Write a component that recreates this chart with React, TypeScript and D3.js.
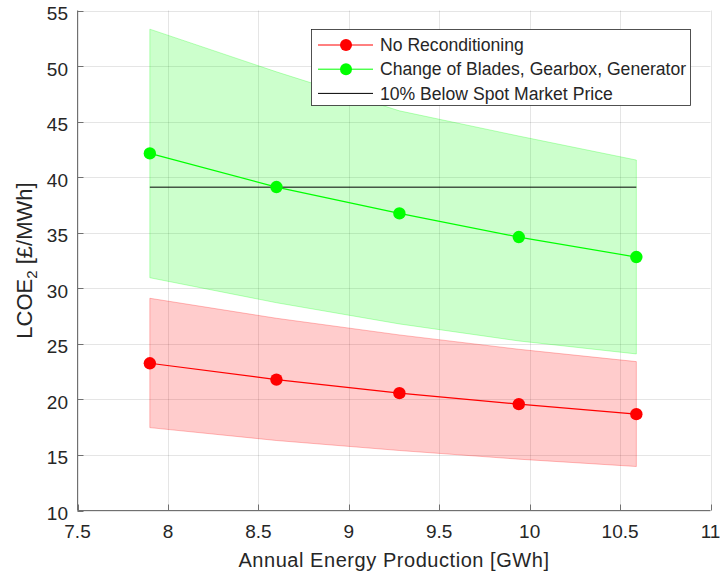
import React from "react";
import * as d3 from "d3";

// annual energy production [GWh]
const aep = [7.9, 8.6, 9.28, 9.94, 10.59];

// LCOE2 [£/MWh]
const noRecon = [23.25, 21.78, 20.56, 19.57, 18.67];
const noReconHigh = [29.1, 27.3, 25.8, 24.51, 23.4];
const noReconLow = [17.46, 16.3, 15.4, 14.62, 13.96];

const changeAll = [42.14, 39.11, 36.74, 34.61, 32.81];
const changeHigh = [53.32, 49.48, 45.97, 43.7, 41.54];
const changeLow = [30.95, 28.7, 26.79, 25.26, 24.09];

const spotPrice = 39.1;

const xTicks = [7.5, 8, 8.5, 9, 9.5, 10, 10.5, 11];
const yTicks = [10, 15, 20, 25, 30, 35, 40, 45, 50, 55];

const legendItems = [
  { label: "No Reconditioning", color: "#ff0000", marker: true },
  { label: "Change of Blades, Gearbox, Generator", color: "#00ff00", marker: true },
  { label: "10% Below Spot Market Price", color: "#000000", marker: false },
];

const W = 720,
  H = 575;
const left = 77.5,
  right = 710.5,
  top = 10.5,
  bottom = 510.5;
const font = "'Liberation Sans', Arial, Helvetica, sans-serif";
const textColor = "#262626";

export default function App() {
  const x = d3.scaleLinear().domain([7.5, 11]).range([left, right]);
  const y = d3.scaleLinear().domain([10, 55]).range([bottom, top]);

  const band = (hi: number[], lo: number[]) =>
    d3
      .area<number>()
      .x((d, i) => x(aep[i]))
      .y0((d, i) => y(lo[i]))
      .y1((d, i) => y(hi[i]))(aep) || "";

  const line = (vals: number[]) =>
    d3
      .line<number>()
      .x((d, i) => x(aep[i]))
      .y((d) => y(d))(vals) || "";

  return (
    <svg
      width={W}
      height={H}
      style={{ position: "absolute", left: 0, top: 0, background: "#fff" }}
      fontFamily={font}
    >
      {/* grid */}
      <g stroke={textColor} strokeOpacity={0.12} strokeWidth={1}>
        {xTicks.map((t) => (
          <line key={"gx" + t} x1={Math.round(x(t)) + 0.5} x2={Math.round(x(t)) + 0.5} y1={top} y2={bottom} />
        ))}
        {yTicks.map((t) => (
          <line key={"gy" + t} x1={left} x2={right} y1={Math.round(y(t)) + 0.5} y2={Math.round(y(t)) + 0.5} />
        ))}
      </g>

      {/* uncertainty bands */}
      <path d={band(changeHigh, changeLow)} fill="#00ff00" fillOpacity={0.2} stroke="#00ff00" strokeOpacity={0.25} />
      <path d={band(noReconHigh, noReconLow)} fill="#ff0000" fillOpacity={0.2} stroke="#ff0000" strokeOpacity={0.25} />

      {/* spot market reference */}
      <line
        x1={x(aep[0])}
        x2={x(aep[aep.length - 1])}
        y1={y(spotPrice)}
        y2={y(spotPrice)}
        stroke="#000"
        strokeWidth={1}
      />

      {/* series */}
      <path d={line(changeAll)} fill="none" stroke="#00ff00" strokeWidth={1.2} />
      <path d={line(noRecon)} fill="none" stroke="#ff0000" strokeWidth={1.2} />
      {changeAll.map((v, i) => (
        <circle key={"g" + i} cx={x(aep[i])} cy={y(v)} r={6.2} fill="#00ff00" />
      ))}
      {noRecon.map((v, i) => (
        <circle key={"r" + i} cx={x(aep[i])} cy={y(v)} r={6.2} fill="#ff0000" />
      ))}

      {/* axes */}
      <g stroke="#707070" strokeWidth={1} fill="none">
        <line x1={left} x2={left} y1={top} y2={bottom} />
        <line x1={left} x2={right} y1={bottom} y2={bottom} />
        {xTicks.map((t) => (
          <line key={"tx" + t} x1={Math.round(x(t)) + 0.5} x2={Math.round(x(t)) + 0.5} y1={bottom} y2={bottom - 6} />
        ))}
        {yTicks.map((t) => (
          <line key={"ty" + t} x1={left} x2={left + 6} y1={Math.round(y(t)) + 0.5} y2={Math.round(y(t)) + 0.5} />
        ))}
      </g>

      <g fill={textColor} fontSize={19}>
        {xTicks.map((t) => (
          <text key={"lx" + t} x={x(t)} y={538} textAnchor="middle">
            {t}
          </text>
        ))}
        {yTicks.map((t) => (
          <text key={"ly" + t} x={68} y={y(t) + 9.5} textAnchor="end">
            {t}
          </text>
        ))}
      </g>

      <text x={(left + right) / 2} y={567} textAnchor="middle" fontSize={20} letterSpacing={0.55} fill={textColor}>
        Annual Energy Production [GWh]
      </text>
      <text
        transform={`translate(31.5,${(top + bottom) / 2}) rotate(-90)`}
        textAnchor="middle"
        fontSize={22}
        fill={textColor}
      >
        LCOE
        <tspan dy={5} fontSize={15}>
          2
        </tspan>
        <tspan dy={-5}> [£/MWh]</tspan>
      </text>

      {/* legend */}
      <g>
        <rect x={311.5} y={29.5} width={379} height={76} fill="#fff" stroke={textColor} strokeWidth={0.8} />
        {legendItems.map((it, i) => {
          const ly = 45 + i * 24.2;
          return (
            <g key={it.label}>
              <line x1={318} x2={373} y1={ly} y2={ly} stroke={it.color} strokeWidth={1} />
              {it.marker && <circle cx={346} cy={ly} r={6} fill={it.color} />}
              <text x={380} y={ly} dy="0.35em" fontSize={17.6} fill={textColor}>
                {it.label}
              </text>
            </g>
          );
        })}
      </g>
    </svg>
  );
}
